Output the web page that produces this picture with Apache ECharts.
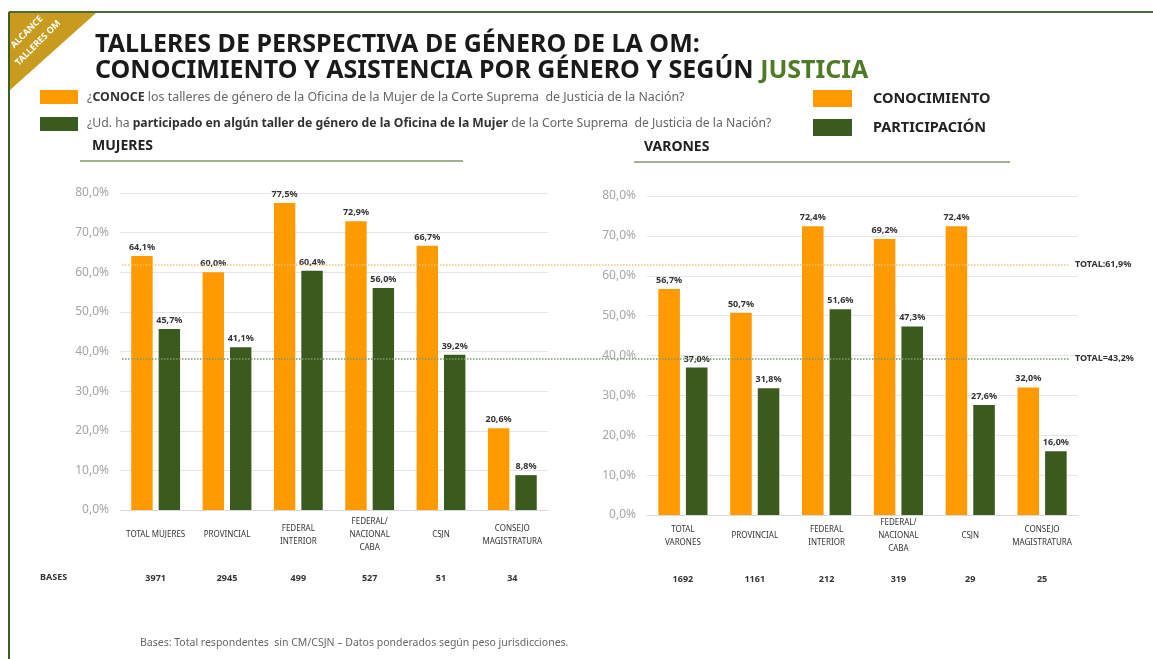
<!DOCTYPE html>
<html>
<head>
<meta charset="utf-8">
<script src="https://cdn.jsdelivr.net/npm/echarts@6/dist/echarts.min.js"></script>
<style>
  html, body { margin: 0; padding: 0; background: #fff; }
  #chart { width: 1153px; height: 659px; }
</style>
</head>
<body>
<div id="chart"></div>
<script>
  var catMujeres = ['TOTAL MUJERES', 'PROVINCIAL', 'FEDERAL\nINTERIOR', 'FEDERAL/\nNACIONAL\nCABA', 'CSJN', 'CONSEJO\nMAGISTRATURA']
  var catVarones = ['TOTAL\nVARONES', 'PROVINCIAL', 'FEDERAL\nINTERIOR', 'FEDERAL/\nNACIONAL\nCABA', 'CSJN', 'CONSEJO\nMAGISTRATURA']
  var conocMujeres = [64.1, 60.0, 77.5, 72.9, 66.7, 20.6]
  var partMujeres = [45.7, 41.1, 60.4, 56.0, 39.2, 8.8]
  var conocVarones = [56.7, 50.7, 72.4, 69.2, 72.4, 32.0]
  var partVarones = [37.0, 31.8, 51.6, 47.3, 27.6, 16.0]
  var basesMujeres = ['3971', '2945', '499', '527', '51', '34']
  var basesVarones = ['1692', '1161', '212', '319', '29', '25']
  // linea de total: nivel dibujado y texto del rotulo
  var totalConoc = 61.9
  var totalPartLevel = 38.2
  var totalPartLabel = 'TOTAL=43,2%'

  var ORANGE = '#FF9A00'
  var GREEN = '#3B5A1E'
  var FONT = '"Noto Sans", "Open Sans", sans-serif'

  function pct(v) {
    return v.toFixed(1).replace('.', ',') + '%'
  }

  var chart = echarts.init(document.getElementById('chart'))

  function yAxisFor(idx) {
    return {
      type: 'value', gridIndex: idx, min: 0, max: 80, interval: 10,
      axisLine: { show: false }, axisTick: { show: false },
      axisLabel: { color: '#a6a6a6', fontSize: 12, fontFamily: FONT, margin: 11, formatter: function (v) { return pct(v) } },
      splitLine: { lineStyle: { color: '#e6e6e6' } }
    }
  }

  function catAxis(idx, data, margin) {
    return {
      type: 'category', gridIndex: idx, data: data,
      axisLine: { lineStyle: { color: '#d9d9d9' } }, axisTick: { show: false },
      axisLabel: { interval: 0, color: '#333', fontSize: 8, fontFamily: FONT, lineHeight: 13, verticalAlign: 'middle', margin: margin }
    }
  }

  function baseAxis(idx, data, offset) {
    return {
      type: 'category', gridIndex: idx, data: data, position: 'bottom', offset: offset,
      axisLine: { show: false }, axisTick: { show: false },
      axisLabel: { interval: 0, color: '#333', fontSize: 9, fontWeight: 'bold', fontFamily: FONT }
    }
  }

  var barLabel = {
    show: true, position: 'top', distance: 4, color: '#333', fontSize: 9,
    fontWeight: 'bold', fontFamily: FONT, formatter: function (p) { return pct(p.value) }
  }

  function bars(name, idx, data, color) {
    return {
      name: name, type: 'bar', xAxisIndex: idx, yAxisIndex: idx, data: data,
      barWidth: '30%', barGap: '28%', itemStyle: { color: color }, label: barLabel, silent: true
    }
  }

  var option = {
    backgroundColor: '#fff',
    title: {
      left: 90, top: 27,
      text: 'TALLERES DE PERSPECTIVA DE GÉNERO DE LA OM:\nCONOCIMIENTO Y ASISTENCIA POR GÉNERO Y SEGÚN {g|JUSTICIA}',
      textStyle: {
        color: '#1a1a1a', fontSize: 25, fontWeight: 'bold', fontFamily: FONT, lineHeight: 26,
        rich: { g: { color: '#4F7A28', fontSize: 25, fontWeight: 'bold', fontFamily: FONT, lineHeight: 26 } }
      }
    },
    grid: [
      { left: 120, width: 428, top: 193, bottom: 149 },
      { left: 647, width: 431, top: 196, bottom: 144 },
      { left: 122, right: 83, top: 193, bottom: 149 }
    ],
    xAxis: [
      catAxis(0, catMujeres, 25), catAxis(1, catVarones, 21),
      { type: 'value', gridIndex: 2, show: false },
      baseAxis(0, basesMujeres, 56), baseAxis(1, basesVarones, 52)
    ],
    yAxis: [yAxisFor(0), yAxisFor(1), { type: 'value', gridIndex: 2, min: 0, max: 80, show: false }],
    series: [
      bars('Conocimiento', 0, conocMujeres, ORANGE),
      bars('Participación', 0, partMujeres, GREEN),
      bars('Conocimiento', 1, conocVarones, ORANGE),
      bars('Participación', 1, partVarones, GREEN),
      {
        type: 'line', xAxisIndex: 2, yAxisIndex: 2, data: [], silent: true,
        markLine: {
          symbol: 'none', silent: true,
          label: { position: 'end', color: '#333', fontSize: 9, fontWeight: 'bold', fontFamily: FONT, distance: 5 },
          data: [
            { yAxis: totalConoc, lineStyle: { color: '#F5C27A', type: 'dotted', width: 1.5 }, label: { formatter: 'TOTAL:' + pct(totalConoc) } },
            { yAxis: totalPartLevel, lineStyle: { color: '#7E9A6A', type: 'dotted', width: 1.5 }, label: { formatter: totalPartLabel } }
          ]
        }
      }
    ],
    graphic: [
      { type: 'line', shape: { x1: 9, y1: 12, x2: 1153, y2: 12 }, style: { stroke: '#4C6B3A', lineWidth: 2 } },
      { type: 'line', shape: { x1: 9, y1: 12, x2: 9, y2: 659 }, style: { stroke: '#3D5E1F', lineWidth: 2 } },
      { type: 'polygon', shape: { points: [[10, 13], [96, 13], [10, 90]] }, style: { fill: '#C89B1E' } },
      { type: 'text', x: 27, y: 32, rotation: Math.PI / 4, style: { text: 'ALCANCE', fill: '#fff', fontSize: 9, fontWeight: 'bold', fontFamily: FONT, align: 'center', verticalAlign: 'middle' } },
      { type: 'text', x: 38, y: 43, rotation: Math.PI / 4, style: { text: 'TALLERES OM', fill: '#fff', fontSize: 9, fontWeight: 'bold', fontFamily: FONT, align: 'center', verticalAlign: 'middle' } },

      { type: 'rect', shape: { x: 40, y: 90, width: 38, height: 14 }, style: { fill: ORANGE } },
      { type: 'rect', shape: { x: 40, y: 117, width: 38, height: 14 }, style: { fill: GREEN } },
      {
        type: 'text', x: 87, y: 97, style: {
          text: '¿{b|CONOCE} los talleres de género de la Oficina de la Mujer de la Corte Suprema  de Justicia de la Nación?',
          fill: '#666', fontSize: 12.4, fontFamily: FONT, verticalAlign: 'middle',
          rich: { b: { fontWeight: 'bold', fill: '#333', fontSize: 12.4, fontFamily: FONT } }
        }
      },
      {
        type: 'text', x: 87, y: 124, style: {
          text: '¿Ud. ha {b|participado en algún taller de género de la Oficina de la Mujer} de la Corte Suprema  de Justicia de la Nación?',
          fill: '#666', fontSize: 12.2, fontFamily: FONT, verticalAlign: 'middle',
          rich: { b: { fontWeight: 'bold', fill: '#333', fontSize: 12.2, fontFamily: FONT } }
        }
      },
      { type: 'rect', shape: { x: 813, y: 90, width: 39, height: 17 }, style: { fill: ORANGE } },
      { type: 'rect', shape: { x: 813, y: 119, width: 39, height: 17 }, style: { fill: GREEN } },
      { type: 'text', x: 873, y: 99, style: { text: 'CONOCIMIENTO', fill: '#222', fontSize: 14.5, fontWeight: 'bold', fontFamily: FONT, verticalAlign: 'middle' } },
      { type: 'text', x: 873, y: 128, style: { text: 'PARTICIPACIÓN', fill: '#222', fontSize: 14.5, fontWeight: 'bold', fontFamily: FONT, verticalAlign: 'middle' } },

      { type: 'text', x: 92, y: 146, style: { text: 'MUJERES', fill: '#222', fontSize: 14, fontWeight: 'bold', fontFamily: FONT, verticalAlign: 'middle' } },
      { type: 'line', shape: { x1: 80, y1: 161, x2: 463, y2: 161 }, style: { stroke: '#A3B092', lineWidth: 2 } },
      { type: 'text', x: 644, y: 147, style: { text: 'VARONES', fill: '#222', fontSize: 14, fontWeight: 'bold', fontFamily: FONT, verticalAlign: 'middle' } },
      { type: 'line', shape: { x1: 634, y1: 162, x2: 1010, y2: 162 }, style: { stroke: '#A3B092', lineWidth: 2 } },

      { type: 'text', x: 40, y: 577, style: { text: 'BASES', fill: '#333', fontSize: 9, fontWeight: 'bold', fontFamily: FONT, verticalAlign: 'middle' } },
      { type: 'text', x: 140, y: 643, style: { text: 'Bases: Total respondentes  sin CM/CSJN – Datos ponderados según peso jurisdicciones.', fill: '#666', fontSize: 10.5, fontFamily: FONT, verticalAlign: 'middle' } }
    ]
  }

  chart.setOption(option)
</script>
</body>
</html>
